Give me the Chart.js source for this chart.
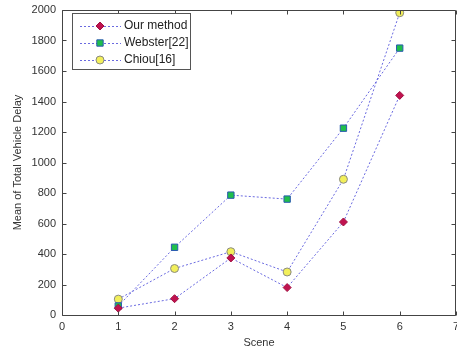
<!DOCTYPE html>
<html><head><meta charset="utf-8">
<script src="https://cdn.jsdelivr.net/npm/chart.js@4.4.1/dist/chart.umd.min.js"></script>
<style>html,body{margin:0;padding:0;background:#fff;}#wrap{width:457px;height:350px;}</style>
</head><body><div id="wrap"><canvas id="c" width="457" height="350"></canvas></div>
<script>
const scenes = [1, 2, 3, 4, 5, 6];
const ourMethod = [45, 107, 374, 180, 610, 1440];
const webster = [59, 444, 786, 760, 1225, 1750];
const chiou = [104, 305, 415, 282, 890, 1982];
const seriesNames = ['Our method', 'Webster[22]', 'Chiou[16]'];
const yTicks = [0, 200, 400, 600, 800, 1000, 1200, 1400, 1600, 1800, 2000];
const xTicks = [0, 1, 2, 3, 4, 5, 6, 7];

const FONT = 'Liberation Sans, Arial, sans-serif';
const lineColor = '#6a6ae0';
function pts(arr){ return scenes.map((s,i)=>({x:s,y:arr[i]})); }

const boxTicks = {
  id:'boxTicks',
  afterDraw(chart){
    const ctx = chart.ctx, a = chart.chartArea, x = chart.scales.x, y = chart.scales.y;
    ctx.save();
    ctx.setLineDash([]); ctx.globalAlpha = 1; ctx.globalCompositeOperation = 'source-over';
    ctx.strokeStyle = '#444'; ctx.lineWidth = 1;
    const l = Math.round(a.left)+0.5, r = Math.round(a.right)-0.5, t = Math.round(a.top)+0.5, b = Math.round(a.bottom)+0.5;
    ctx.beginPath();
    ctx.moveTo(l,t); ctx.lineTo(r,t); ctx.lineTo(r,b); ctx.lineTo(l,b); ctx.closePath();
    const L=4;
    xTicks.forEach(v=>{const p=Math.round(x.getPixelForValue(v))+0.5; ctx.moveTo(p,b); ctx.lineTo(p,b-L); ctx.moveTo(p,t); ctx.lineTo(p,t+L);});
    yTicks.forEach(v=>{const p=Math.round(y.getPixelForValue(v))+0.5; ctx.moveTo(l,p); ctx.lineTo(l+L,p); ctx.moveTo(r,p); ctx.lineTo(r-L,p);});
    ctx.stroke();
    // legend
    const bx=72, by=13, bw=118, bh=56;
    ctx.fillStyle='#fff'; ctx.fillRect(bx,by,bw,bh);
    ctx.strokeStyle='#555'; ctx.strokeRect(bx+0.5,by+0.5,bw,bh);
    chart.data.datasets.forEach((ds,i)=>{
      const yy = by+13+i*17;
      ctx.save();
      ctx.strokeStyle=lineColor; ctx.setLineDash([2,2]); ctx.lineWidth=1;
      ctx.beginPath(); ctx.moveTo(80,yy+0.5); ctx.lineTo(121,yy+0.5); ctx.stroke();
      ctx.restore();
      ctx.fillStyle=ds.pointBackgroundColor; ctx.strokeStyle=ds.pointBorderColor; ctx.lineWidth=1;
      Chart.helpers.drawPoint(ctx,{pointStyle:ds.pointStyle, radius:ds.pointRadius, borderWidth:1, rotation:0}, 100, yy);
      ctx.fillStyle='#222'; ctx.font='12px '+FONT; ctx.textBaseline='middle'; ctx.textAlign='left';
      ctx.fillText(ds.label, 124, yy);
    });
    ctx.restore();
  }
};

new Chart(document.getElementById('c'), {
  type:'line',
  data:{datasets:[
    {label:seriesNames[0], data:pts(ourMethod), borderColor:lineColor, borderWidth:1, borderDash:[2,2], pointStyle:'rectRot', pointRadius:4, pointBackgroundColor:'#c0124f', pointBorderColor:'#a01040', pointBorderWidth:1},
    {label:seriesNames[1], data:pts(webster), borderColor:lineColor, borderWidth:1, borderDash:[2,2], pointStyle:'rect', pointRadius:4.5, pointBackgroundColor:'#1fbf4a', pointBorderColor:'#2a5ab0', pointBorderWidth:1},
    {label:seriesNames[2], data:pts(chiou), borderColor:lineColor, borderWidth:1, borderDash:[2,2], pointStyle:'circle', pointRadius:4, pointBackgroundColor:'#f2ef5a', pointBorderColor:'#8a8a80', pointBorderWidth:1}
  ]},
  options:{
    responsive:false, animation:false, devicePixelRatio:1,
    layout:{autoPadding:false, padding:{left:11,right:1,top:10,bottom:0}},
    plugins:{legend:{display:false}, tooltip:{enabled:false}},
    scales:{
      x:{type:'linear', min:0, max:7, afterFit(s){s.height=35; s.paddingLeft=0; s.paddingRight=0;},
        afterBuildTicks(s){s.ticks=xTicks.map(v=>({value:v}));},
        grid:{display:false, drawTicks:false}, border:{display:false},
        ticks:{color:'#333', font:{family:FONT,size:11}, padding:5, maxRotation:0, callback:v=>String(v)},
        title:{display:true, text:'Scene', color:'#333', font:{family:FONT,size:11}, padding:{top:0,bottom:0}}},
      y:{min:0, max:2000, afterFit(s){s.width=51; s.paddingTop=0; s.paddingBottom=0;},
        afterBuildTicks(s){s.ticks=yTicks.map(v=>({value:v}));},
        grid:{display:false, drawTicks:false}, border:{display:false},
        ticks:{color:'#333', font:{family:FONT,size:11}, padding:6, callback:v=>String(v)},
        title:{display:true, text:'Mean of Total Vehicle Delay', color:'#333', font:{family:FONT,size:11}, padding:{top:0,bottom:0}}}
    }
  },
  plugins:[boxTicks]
});
</script></body></html>
